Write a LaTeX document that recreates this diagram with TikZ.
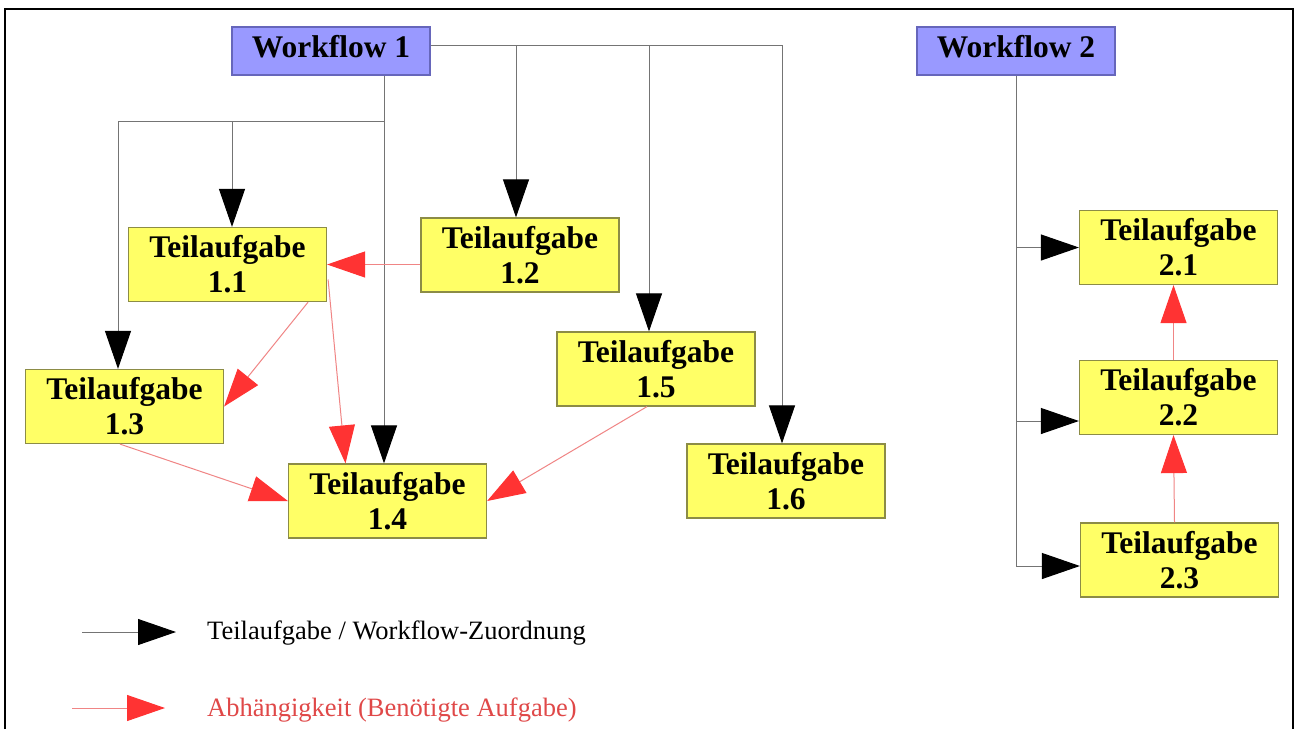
\documentclass[tikz,border=0pt]{standalone}
\usepackage{fontspec}
\setmainfont{Liberation Serif}
\usetikzlibrary{arrows.meta,calc}
\definecolor{taskfill}{HTML}{FFFF66}
\definecolor{taskdraw}{HTML}{8C8C46}
\definecolor{wffill}{HTML}{9999FF}
\definecolor{wfdraw}{HTML}{6666BB}
\definecolor{linegray}{HTML}{747474}
\definecolor{depline}{HTML}{F08585}
\definecolor{deptip}{HTML}{FF3333}
\definecolor{legred}{HTML}{E04848}
\tikzset{
  task/.style={draw=taskdraw, fill=taskfill, line width=1.2pt, minimum width=198pt, minimum height=74pt,
    inner sep=0pt, align=center, font=\fontsize{31.5}{35}\selectfont\bfseries},
  wf/.style={draw=wfdraw, fill=wffill, line width=1.2pt, minimum width=198pt, minimum height=48pt,
    inner sep=0pt, text height=21pt, text depth=8pt, font=\fontsize{31.5}{35}\selectfont\bfseries},
  conn/.style={draw=linegray, line width=1pt},
  assign/.style={conn, -{Triangle[length=38pt,width=26pt,color=black]}},
  dep/.style={draw=depline, line width=1pt, -{Triangle[length=38pt,width=26pt,color=deptip]}},
  legtext/.style={anchor=base west, inner sep=0pt, font=\fontsize{26.5}{30}\selectfont}
}
\begin{document}
\begin{tikzpicture}[x=1pt,y=-1pt]
\useasboundingbox (0,0) rectangle (1295,729);
\fill[white] (0,0) rectangle (1295,729);
\draw[line width=2pt] (5,729) -- (5,9) -- (1293,9) -- (1293,729);

% nodes
\node[wf] (w1) at (331,51) {Workflow 1};
\node[wf] (w2) at (1016,51) {Workflow 2};
\node[task] (t11) at (227.5,264.5) {Teilaufgabe\\1.1};
\node[task] (t12) at (520,255) {Teilaufgabe\\1.2};
\node[task] (t13) at (124.5,406.5) {Teilaufgabe\\1.3};
\node[task] (t14) at (387.5,501) {Teilaufgabe\\1.4};
\node[task] (t15) at (656,369) {Teilaufgabe\\1.5};
\node[task] (t16) at (786,481) {Teilaufgabe\\1.6};
\node[task] (t21) at (1178.5,247.5) {Teilaufgabe\\2.1};
\node[task] (t22) at (1178.5,397.5) {Teilaufgabe\\2.2};
\node[task] (t23) at (1179.5,560) {Teilaufgabe\\2.3};

% workflow 1 assignment connectors
\coordinate (j1) at (384,121);
\coordinate (h1) at ($(w1.east)+(0,-6)$);
\coordinate (b12) at ($(t12.north)+(-4,0)$);
\coordinate (b15) at ($(t15.north)+(-7,0)$);
\coordinate (b16) at ($(t16.north)+(-4,0)$);
\coordinate (b11) at ($(t11.north)+(4.5,0)$);
\coordinate (b13) at ($(t13.north)+(-6.5,0)$);
\coordinate (b14) at ($(t14.north)+(-3.5,0)$);
\draw[assign] (h1) -| (b16);
\draw[assign] (h1 -| b12) -- (b12);
\draw[assign] (h1 -| b15) -- (b15);
\draw[assign] (w1.south -| b14) -- (b14);
\draw[assign] (j1) -| (b13);
\draw[assign] (j1 -| b11) -- (b11);

% workflow 2 assignment connectors
\coordinate (e21) at (t21.west);
\coordinate (e22) at ($(t22.west)+(0,23.5)$);
\coordinate (e23) at ($(t23.west)+(0,6)$);
\draw[conn] (w2.south) -- (w2.south |- e23);
\draw[assign] (w2.south |- e21) -- (e21);
\draw[assign] (w2.south |- e22) -- (e22);
\draw[assign] (w2.south |- e23) -- (e23);

% dependencies
\draw[dep] (t12.west |- t11.east) -- (t11.east);
\draw[dep] ($(t11.south east)+(-19,0)$) -- (t13.east);
\draw[dep] ($(t11.east)+(1,15)$) -- ($(t14.north)+(-42,0)$);
\draw[dep] ($(t13.south)+(-4.5,0)$) -- (t14.west);
\draw[dep] ($(t15.south)+(-9,0)$) -- (t14.east);
\draw[dep] ($(t22.north)+(-5,0)$) -- ($(t21.south)+(-5,0)$);
\draw[dep] ($(t23.north)+(-5,0)$) -- ($(t22.south)+(-5,0)$);

% legend
\coordinate (la1) at (82,632);
\coordinate (la2) at (176,632);
\coordinate (lb1) at (72,708);
\coordinate (lb2) at (165,708);
\draw[assign] (la1) -- (la2);
\draw[dep] (lb1) -- (lb2);
\node[legtext] (lt1) at (207,639) {Teilaufgabe / Workflow-Zuordnung};
\node[legtext, text=legred] (lt2) at (207,716) {Abhängigkeit (Benötigte Aufgabe)};
\end{tikzpicture}
\end{document}
